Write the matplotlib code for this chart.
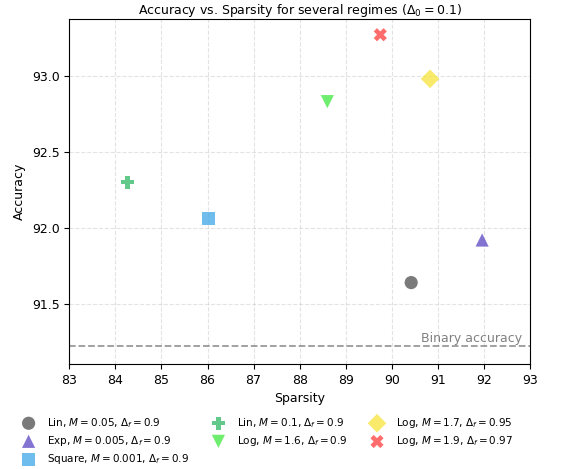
import numpy as np
import matplotlib.pyplot as plt

# data
labels = [
    r'Lin, $M=0.05$, $\Delta_f=0.9$',
    r'Exp, $M=0.005$, $\Delta_f=0.9$',
    r'Square, $M=0.001$, $\Delta_f=0.9$',
    r'Lin, $M=0.1$, $\Delta_f=0.9$',
    r'Log, $M=1.6$, $\Delta_f=0.9$',
    r'Log, $M=1.7$, $\Delta_f=0.95$',
    r'Log, $M=1.9$, $\Delta_f=0.97$',
]
sparsity = [90.42, 91.96, 86.02, 84.26, 88.60, 90.83, 89.75]
accuracy = [91.64, 91.92, 92.06, 92.30, 92.83, 92.98, 93.27]
binary_acc = 91.22

markers = ['o', '^', 's', 'P', 'v', 'D', 'X']
colors = ['#4d4d4d', '#5b45c4', '#3fa7e6', '#2fb865', '#3ee83e', '#f7e43a', '#ff3b3b']

plt.rcParams['font.size'] = 9

fig, ax = plt.subplots(figsize=(5.87, 4.69), dpi=100)

for s, a, m, c, lab in zip(sparsity, accuracy, markers, colors, labels):
    ax.scatter(s, a, marker=m, color=c, s=90, alpha=0.75, edgecolors='none',
               label=lab, zorder=3)

ax.axhline(binary_acc, color='grey', ls='--', lw=1.3, alpha=0.8)
ax.text(92.82, binary_acc + 0.01, 'Binary accuracy', ha='right', va='bottom',
        color='grey', fontsize=9)

ax.set_xlim(83, 93)
ax.set_ylim(91.105, 93.375)
ax.set_xticks(np.arange(83, 94, 1))
ax.set_yticks([91.5, 92.0, 92.5, 93.0])
ax.grid(True, ls='--', alpha=0.35)
ax.set_xlabel('Sparsity')
ax.set_ylabel('Accuracy')
ax.set_title(r'Accuracy vs. Sparsity for several regimes ($\Delta_0 = 0.1$)',
             fontsize=9, pad=3)

fig.legend(*ax.get_legend_handles_labels(), loc='upper left',
           bbox_to_anchor=(0.015, 0.133), ncol=3, frameon=False,
           fontsize=7.5, handletextpad=0.8, columnspacing=1.8, labelspacing=0.41)

fig.subplots_adjust(left=0.118, right=0.903, top=0.96, bottom=0.224)
fig.savefig('out.png', dpi=100)
